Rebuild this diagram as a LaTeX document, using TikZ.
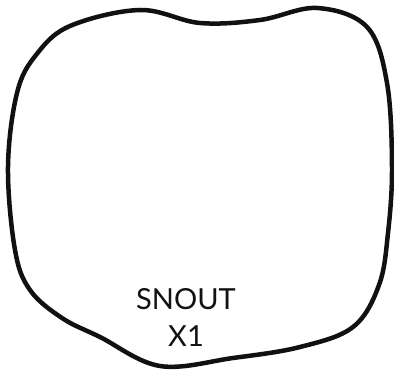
\documentclass[tikz,border=0pt]{standalone}
\usepackage{fontspec}
\setmainfont{Lato}
\usetikzlibrary{positioning}
\definecolor{ink}{HTML}{111111}

\begin{document}
\begin{tikzpicture}[x=1pt,y=-1pt]
 \useasboundingbox(0,0)rectangle(394,374);
 \draw[ink,line width=4.5pt,line join=round]plot[smooth cycle,tension=0.6]coordinates{
  (140,10)(200,23)(260,20)(317,8)(367,27)(387,83)(392,167)(388,233)(379,285)
  (353,327)(300,347)(233,358)(160,366)(100,337)(62,318)(30,290)(15,250)(8,167)(17,93)(36,55)(70,26)};
 \node[font=\fontsize{29}{34}\selectfont,text=ink](snout)at(186,299){SNOUT};
 \node[font=\fontsize{29}{34}\selectfont,text=ink,below=9pt of snout](xone){X1};
\end{tikzpicture}
\end{document}
